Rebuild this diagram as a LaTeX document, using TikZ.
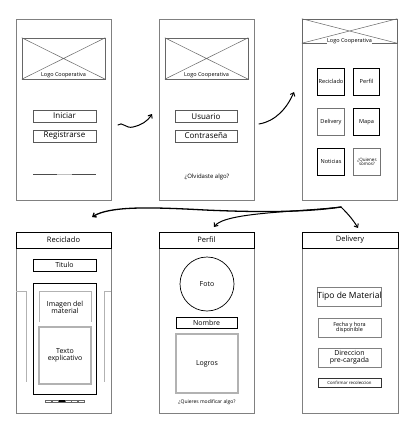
\documentclass[tikz,border=0pt]{standalone}
\usepackage{fontspec}
\setmainfont{Open Sans}
\usetikzlibrary{arrows.meta}
\newcommand{\fs}[1]{\fontsize{#1}{#1}\selectfont}
\begin{document}
\begin{tikzpicture}[x=1pt,y=-1pt,
  scr/.style={draw=black!50, line width=0.6pt, inner sep=0pt, fill=white},
  logo/.style={draw=black!60, line width=0.5pt, inner sep=0pt},
  btn/.style={draw=black!65, line width=0.6pt, inner sep=0pt, font=\fs{8}},
  tile/.style={draw=black, line width=0.7pt, inner sep=0pt, minimum width=26.5pt, minimum height=27pt, font=\fs{5.6}, align=center},
  tileg/.style={tile, draw=black!55, line width=1.2pt},
  hdr/.style={draw=black, line width=0.7pt, inner sep=0pt, minimum width=95pt, minimum height=16pt, font=\fs{7.5}},
  dbtn/.style={draw=black!50, line width=0.6pt, inner sep=0pt, minimum width=63pt, align=center},
  lite/.style={draw=black!30, line width=0.6pt},
  hand/.style={line width=1pt, draw=black, line cap=round},
  tip/.style={-{Straight Barb[length=3pt,width=5pt]}},
  lbl/.style={inner sep=0pt}
]
\useasboundingbox (0,0) rectangle (413,425);

% ---------- Screen 1 ----------
\node[scr, minimum width=95pt, minimum height=181pt] (s1) at (63.5,109.5) {};
\node[logo, minimum width=83pt, minimum height=41pt] (lg1) at (63.5,58.5) {};
\draw[black!60, line width=0.5pt] (lg1.north west) -- (lg1.south east) (lg1.north east) -- (lg1.south west);
\node[lbl, font=\fs{5.5}, fill=white, inner sep=0.3pt] (lg1t) at (63.5,75.3) {Logo Cooperativa};
\node[btn, minimum width=63pt, minimum height=12pt] (ini) at (64.5,116) {Iniciar};
\node[btn, minimum width=63pt, minimum height=12pt] (reg) at (64.5,136) {Registrarse};
\coordinate (ln1a) at (33,174);
\coordinate (ln1b) at (96,174);
\draw[black!70, line width=0.5pt] (ln1a) -- (ln1b);
\draw[black!25, line width=0.8pt] (57,174) -- (72,174);

% ---------- Screen 2 ----------
\node[scr, minimum width=95pt, minimum height=181pt] (s2) at (206.5,109.5) {};
\node[logo, minimum width=83pt, minimum height=41pt] (lg2) at (206.5,58.5) {};
\draw[black!60, line width=0.5pt] (lg2.north west) -- (lg2.south east) (lg2.north east) -- (lg2.south west);
\node[lbl, font=\fs{5.5}, fill=white, inner sep=0.3pt] (lg2t) at (206.5,75.3) {Logo Cooperativa};
\node[btn, minimum width=62pt, minimum height=12pt] (usu) at (206,116.5) {Usuario};
\node[btn, minimum width=62pt, minimum height=12pt] (con) at (206,136) {Contraseña};
\node[lbl, font=\fs{6}] (olv) at (207,176.5) {¿Olvidaste algo?};

% ---------- Screen 3 ----------
\node[scr, minimum width=95pt, minimum height=181pt] (s3) at (349.5,109.5) {};
\node[logo, minimum width=95pt, minimum height=24pt] (lg3) at (349.5,31) {};
\draw[black!60, line width=0.5pt] (lg3.north west) -- (lg3.south east) (lg3.north east) -- (lg3.south west);
\node[lbl, font=\fs{5.5}, fill=white, inner sep=0.3pt] (lg3t) at (349.5,41.5) {Logo Cooperativa};
\node[tile] (rec) at (331,81.5) {Reciclado};
\node[tile] (per) at (366.5,81.5) {Perfil};
\node[tileg] (del) at (331,122) {Delivery};
\node[tile] (map) at (366.5,122) {Mapa};
\node[tile] (not) at (331,161.5) {Noticias};
\node[tileg, font=\fs{4.5}] (qui) at (367,162) {¿Quienes\\somos?};

% ---------- Screen 4: Reciclado ----------
\node[scr, minimum width=95pt, minimum height=181pt] (s4) at (63.5,322.5) {};
\node[hdr] (h4) at (63.5,240) {Reciclado};
\node[btn, draw=black, line width=0.7pt, minimum width=63pt, minimum height=12pt, font=\fs{7}] (tit) at (64.5,265) {Titulo};
\node[draw=black, line width=0.8pt, inner sep=0pt, minimum width=63pt, minimum height=111pt] (card) at (64.5,338.5) {};
\draw[lite] (39,322) -- (39,291) -- (91,291) -- (91,322);
\node[lbl, font=\fs{7}, align=center] (img) at (65,307) {Imagen del\\material};
\node[draw=black!30, line width=1.2pt, inner sep=0pt, minimum width=52pt, minimum height=57pt, font=\fs{7}, align=center] (tex) at (65,355.5) {Texto\\explicativo};
\draw[lite] (16,291) -- (26,291) -- (26,382);
\draw[lite] (111,291) -- (104,291) -- (104,382);
\foreach \i in {0,...,5} {
  \draw[black!60, line width=0.4pt] (45.5+6.5*\i,399.8) rectangle (51.5+6.5*\i,402.2);
}
\fill[black] (58.5,399.8) rectangle (64.5,402.2);

% ---------- Screen 5: Perfil ----------
\node[scr, minimum width=95pt, minimum height=181pt] (s5) at (206.5,322.5) {};
\node[hdr] (h5) at (206.5,240) {Perfil};
\node[circle, draw=black, line width=0.7pt, minimum size=54pt, inner sep=0pt, font=\fs{7}] (foto) at (207,284) {Foto};
\node[btn, draw=black, line width=0.7pt, minimum width=61pt, minimum height=11pt, font=\fs{7}] (nom) at (206.5,322.5) {Nombre};
\node[draw=black!30, line width=1.2pt, inner sep=0pt, minimum width=62pt, minimum height=59pt, font=\fs{7}] (logr) at (207,363.5) {Logros};
\node[lbl, font=\fs{5}] (mod) at (207,402) {¿Quieres modificar algo?};

% ---------- Screen 6: Delivery ----------
\node[scr, minimum width=96pt, minimum height=181pt] (s6) at (350,322.5) {};
\node[hdr, minimum width=96pt] (h6) at (350,240) {Delivery};
\node[dbtn, minimum height=19pt, font=\fs{8.5}] (tipo) at (349.5,296.5) {Tipo de Material};
\node[dbtn, minimum height=19pt, font=\fs{5.5}] (fec) at (349.5,327.5) {Fecha y hora\\disponible};
\node[dbtn, minimum height=19pt, font=\fs{7}] (dir) at (349.5,357.5) {Direccion\\pre-cargada};
\node[dbtn, draw=black!80, line width=0.9pt, minimum height=9pt, font=\fs{4.3}] (conf) at (349.5,382.5) {Confirmar recoleccion};

% ---------- Hand-drawn connectors ----------
\coordinate (a1s) at (118,125);
\coordinate (a1e) at (152,114);
\draw[hand, tip] (a1s) .. controls (122,121) and (126,129) .. (133,127)
  .. controls (141,125) and (147,122) .. (a1e);
\coordinate (a2s) at (259,124);
\coordinate (a2e) at (294,92);
\draw[hand, tip] (a2s) .. controls (276,121) and (287,108) .. (a2e);

\coordinate (hub) at (341,207);
\coordinate (a3e) at (92,217);
\coordinate (a4e) at (214,227);
\coordinate (a5e) at (358,228);
\draw[hand, line width=1.3pt, tip] (hub) .. controls (300,213) and (250,212) .. (205,210)
  .. controls (150,207) and (110,206) .. (a3e);
\draw[hand, tip] (hub) .. controls (300,212) and (225,212) .. (a4e);
\draw[hand, tip] (hub) .. controls (346,212) and (352,218) .. (a5e);
\end{tikzpicture}
\end{document}
